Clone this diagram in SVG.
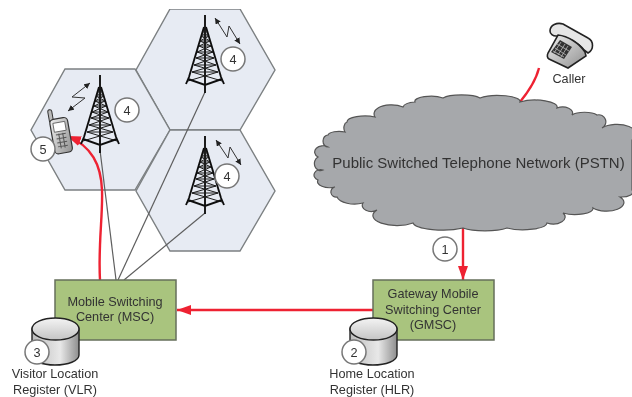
<svg xmlns="http://www.w3.org/2000/svg" width="632" height="397" viewBox="0 0 632 397">
<style>
text{font-family:"Liberation Sans",Arial,sans-serif;fill:#333;text-anchor:middle;font-size:12.700px}
.hex{fill:#e7ebf3;stroke:#7c8082;stroke-width:1.4}
.box{fill:#a9c47e;stroke:#666f5c;stroke-width:1.5}
.badge{fill:#fff;stroke:#777;stroke-width:1.5}
.wire{fill:none;stroke:#5e5e5e;stroke-width:1.2}
.red{fill:none;stroke:#ee2030;stroke-width:2.4}
.t{fill:none;stroke:#1c1c1c;stroke-width:1}
.tb{fill:none;stroke:#111;stroke-width:1.9}
.bolt{fill:none;stroke:#333;stroke-width:1}
</style>
<defs>
<filter id="soft" x="0" y="0" width="100%" height="100%"><feGaussianBlur stdDeviation="0.4"/></filter>
<linearGradient id="cyl" x1="0" x2="0" y1="0" y2="1"><stop offset="0" stop-color="#f4f4f4"/><stop offset="1" stop-color="#c4c4c4"/></linearGradient>
<linearGradient id="cylside" x1="0" x2="1" y1="0" y2="0"><stop offset="0" stop-color="#bdbdbd"/><stop offset=".6" stop-color="#e8e8e8"/><stop offset="1" stop-color="#8e8e8e"/></linearGradient>
<linearGradient id="phone" x1="0" x2="1" y1="0" y2="1"><stop offset="0" stop-color="#f0f0f0"/><stop offset="1" stop-color="#8f8f8f"/></linearGradient>
<marker id="ah" markerUnits="userSpaceOnUse" markerWidth="15" markerHeight="12" refX="14" refY="6" orient="auto"><path d="M0 1L14 6L0 11z" fill="#ee2030"/></marker>
<marker id="bh" markerUnits="userSpaceOnUse" markerWidth="7" markerHeight="6" refX="6" refY="3" orient="auto-start-reverse"><path d="M0 0L6 3L0 6z" fill="#222"/></marker>
<g id="tower">
<path class="tb" d="M0 0V78"/>
<path class="t" d="M-3 16H3M-4 21H4M-5 26H5M-6 31H6M-8 37H8M-9 43H9M-11 50H11M-13 57H13M-3 16L4 21M3 16L-4 21M-4 21L5 26M4 21L-5 26M-5 26L6 31M5 26L-6 31M-6 31L8 37M6 31L-8 37M-8 37L9 43M8 37L-9 43M-9 43L11 50M9 43L-11 50M-11 50L13 57M11 50L-13 57M-13 57L17 66M13 57L-17 66"/>
<path class="tb" d="M-1 12L-16 62L-19 69M1 12L16 62L19 69M-17 64L0 70L17 64"/>
</g>
<g id="cylinder">
<path d="M0 11V37C0 43 10 47 23 47S47 43 47 37V11z" fill="url(#cylside)" stroke="#222" stroke-width="1.4"/>
<ellipse cx="23.500" cy="11" rx="23.500" ry="11" fill="url(#cyl)" stroke="#222" stroke-width="1.4"/>
</g>
</defs>
<g filter="url(#soft)">
<g id="cell-top"><polygon class="hex" points="170,9 240,9 275,70 240,130 170,130 136,70"/></g>
<g id="cell-left"><polygon class="hex" points="65,69 135,69 170,130 135,190 65,190 31,130"/></g>
<g id="cell-bottom"><polygon class="hex" points="170,130 240,130 275,191 240,251 170,251 136,191"/></g>

<g id="connectors">
<path class="wire" d="M100 150L116 280"/>
<path class="wire" d="M205 92L118 280"/>
<path class="wire" d="M205 213L124 280"/>
<path class="red" d="M100 280C98 245 103 215 102 190C101 165 92 146 67 136" marker-end="url(#ah)"/>
<path class="red" d="M373 310H177" marker-end="url(#ah)"/>
<path class="red" d="M463 226V280" marker-end="url(#ah)"/>
<path class="red" d="M520 102C529 91 536 80 539 68" stroke-width="2"/>
</g>

<g id="tower-left"><use href="#tower" x="100" y="75"/>
<path class="bolt" d="M90 83L72 97L85 98L68 111" marker-start="url(#bh)" marker-end="url(#bh)"/>
<circle class="badge" cx="127" cy="110" r="12"/><text x="127" y="115">4</text></g>
<g id="tower-top"><use href="#tower" x="205" y="15"/>
<path class="bolt" d="M215 18L227 37L229 26L240 44" marker-start="url(#bh)" marker-end="url(#bh)"/>
<circle class="badge" cx="233" cy="59" r="12"/><text x="233" y="64">4</text></g>
<g id="tower-bottom"><use href="#tower" x="205" y="136"/>
<path class="bolt" d="M216 140L228 158L230 147L241 165" marker-start="url(#bh)" marker-end="url(#bh)"/>
<circle class="badge" cx="227" cy="176" r="12"/><text x="227" y="181">4</text></g>

<g id="mobile">
<g transform="rotate(-10 62 135)">
<path d="M52 120V110a2 2 0 0 1 4 0V120z" fill="#bbb" stroke="#333"/>
<rect x="52" y="118" width="18" height="35" rx="4" fill="url(#phone)" stroke="#333" stroke-width="1.2"/>
<rect x="55" y="122" width="12" height="9" fill="#fff" stroke="#555" stroke-width=".8"/>
<path d="M56 134h10M56 138h10M56 142h10M56 146h10M59 133v15M63 133v15" stroke="#555" stroke-width="1" fill="none"/>
</g>
<circle class="badge" cx="43" cy="149" r="12"/><text x="43" y="154">5</text>
</g>

<g id="caller">
<path d="M550 31C550 25 557 22 563 24L588 38C594 41 594 50 588 53L584 50C578 42 565 36 556 36C553 36 550 34 550 31z" fill="#e6e6e6" stroke="#222" stroke-width="1.6"/>
<path d="M558 35C568 36 579 43 585 52L586 56L568 68L549 59C547 58 547 55 548 53z" fill="url(#phone)" stroke="#222" stroke-width="1.6"/>
<path d="M560 40L572 47L564 59L551 52z" fill="#333"/>
<path d="M557 44L569 51M555 48L566 55M553 51L564 57M561 42L554 53M565 44L558 55M568 46L561 57" stroke="#bbb" stroke-width=".8"/>
<text x="569" y="83">Caller</text>
</g>

<g id="pstn">
<path d="M375 117A12 8 0 0 1 378 108A16 7 0 0 1 403 107A14 6 0 0 1 415 102A16 5 0 0 1 443 98A20 5 0 0 1 480 98A22 6 0 0 1 520 102A22 7 0 0 1 557 108A10 6 0 0 1 572 115A14 5 0 0 1 597 115A7 7 0 0 1 602 128A18 9 0 0 1 632 140V190A12 5 0 0 1 620 197A16 8 0 0 1 593 208A18 6 0 0 1 563 213A12 7 0 0 1 547 223A24 7 0 0 1 507 228A26 6 0 0 1 463 228A30 8 0 0 1 413 223A24 10 0 0 1 377 210A9 6 0 0 1 363 203A18 9 0 0 1 337 197A5 5 0 0 1 335 187A12 6 0 0 1 318 180A6 5 0 0 1 323 170A6 7 0 0 1 318 157A8 6 0 0 1 328 147A5 6 0 0 1 328 135A11 4 0 0 1 345 132A4 6 0 0 1 347 122A18 6 0 0 1 375 117z" fill="#a6a8ab" stroke="#555" stroke-width="1.2"/>
<text x="478.500" y="168" style="font-size:15px">Public Switched Telephone Network (PSTN)</text>
</g>

<g id="msc">
<rect class="box" x="55" y="280" width="121" height="60"/>
<text x="115" y="306">Mobile Switching</text><text x="115" y="321">Center (MSC)</text>
</g>
<g id="gmsc">
<rect class="box" x="373" y="280" width="121" height="60"/>
<text x="433" y="298">Gateway Mobile</text><text x="433" y="314">Switching Center</text><text x="433" y="329">(GMSC)</text>
</g>
<g id="vlr"><use href="#cylinder" x="32" y="318"/>
<circle class="badge" cx="37" cy="352" r="12"/><text x="37" y="357">3</text>
<text x="55" y="378">Visitor Location</text><text x="55" y="394">Register (VLR)</text></g>
<g id="hlr"><use href="#cylinder" x="350" y="318"/>
<circle class="badge" cx="354" cy="352" r="12"/><text x="354" y="357">2</text>
<text x="372" y="378">Home Location</text><text x="372" y="394">Register (HLR)</text></g>
<g id="step1"><circle class="badge" cx="445" cy="249" r="12"/><text x="445" y="254">1</text></g>
</g>
</svg>
